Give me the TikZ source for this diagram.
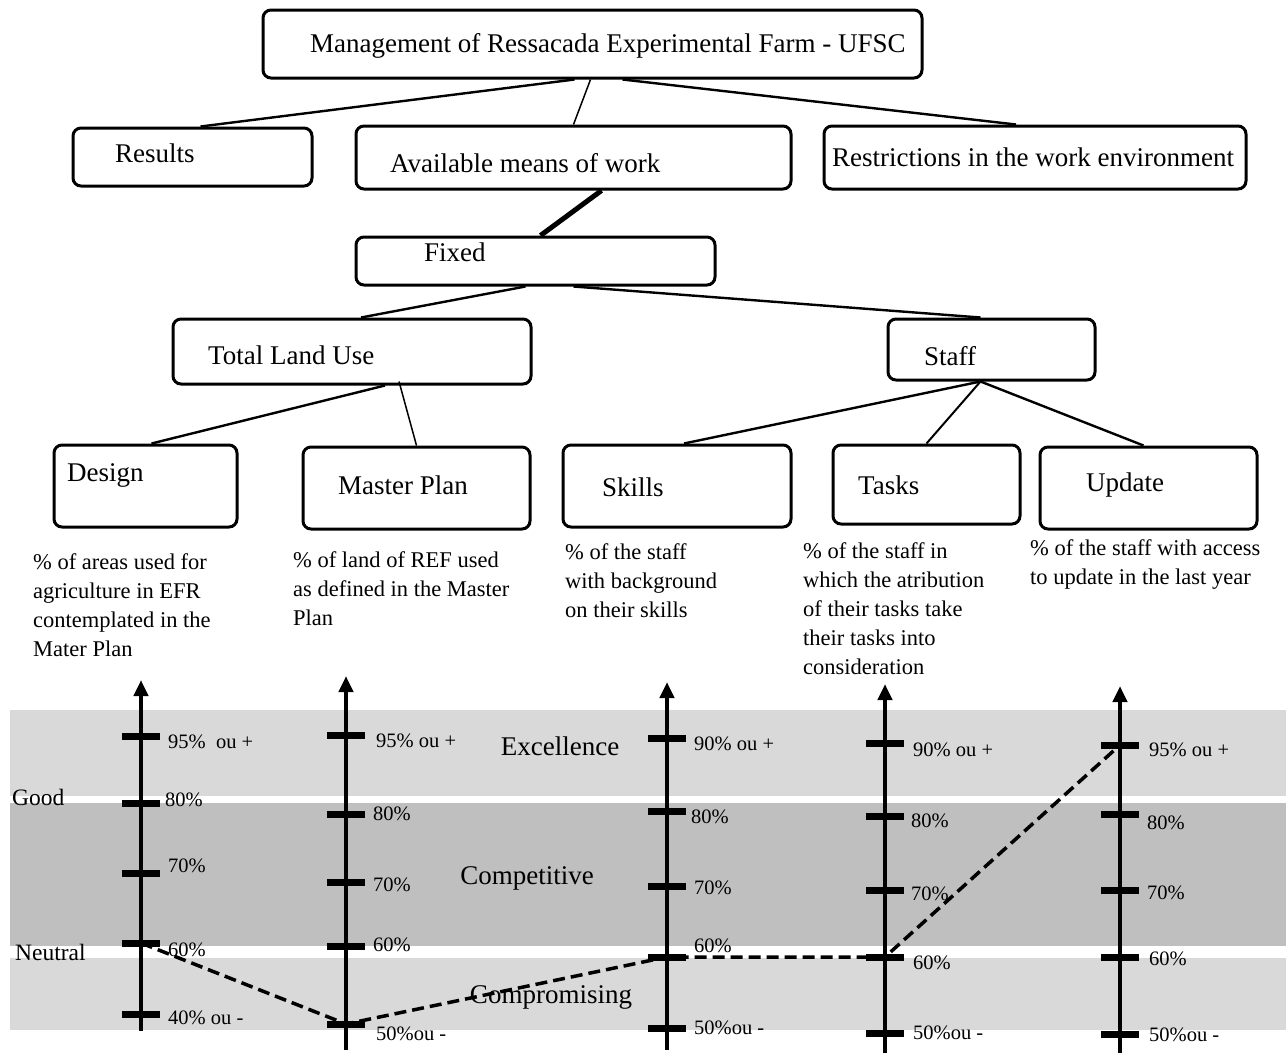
\documentclass[tikz,border=0pt]{standalone}
\usepackage{fontspec}
\setmainfont{Liberation Serif}
\usetikzlibrary{positioning,arrows.meta}

\begin{document}
\begin{tikzpicture}[
        x=1pt, y=-1pt,
        box/.style={
            rectangle,
            draw,
            rounded corners=8pt,
            line width=3pt
        },
        boxtext/.style={anchor=west, inner sep=0pt, font=\fontsize{27}{32}\selectfont},
        desc/.style={anchor=north west, inner sep=0pt, align=left, font=\fontsize{22.5}{29}\selectfont},
        zone/.style={font=\fontsize{27}{31}\selectfont},
        level/.style={anchor=west, inner sep=0pt, font=\fontsize{23.5}{27}\selectfont},
        ticklabel/.style={anchor=west, inner sep=0pt, font=\fontsize{20.5}{23}\selectfont},
        link/.style={line width=2.4pt},
        gauge/.style={line width=4pt, -{Triangle[width=14pt,length=16pt]}},
        notch/.style={line width=7pt},
        trend/.style={line width=3.5pt, dash pattern=on 12pt off 6pt}
    ]
        \useasboundingbox (0,0) rectangle (1286,1053);

        % tree
        \node[box, minimum width=659pt, minimum height=68pt] (top)     at (592.5,44)  {};
        \node[box, minimum width=239pt, minimum height=58pt] (results) at (192.5,157) {};
        \node[box, minimum width=435pt, minimum height=63pt] (avail)   at (573.5,157.5) {};
        \node[box, minimum width=422pt, minimum height=63pt] (restr)   at (1035,157.5) {};
        \node[box, minimum width=359pt, minimum height=48pt] (fixed)   at (535.5,261) {};
        \node[box, minimum width=358pt, minimum height=65pt] (land)    at (352,351.5) {};
        \node[box, minimum width=207pt, minimum height=61pt] (staff)   at (991.5,349.5) {};
        \node[box, minimum width=183pt, minimum height=82pt] (design)  at (145.5,486) {};
        \node[box, minimum width=227pt, minimum height=82pt] (master)  at (416.5,488) {};
        \node[box, minimum width=228pt, minimum height=82pt] (skills)  at (677,486) {};
        \node[box, minimum width=187pt, minimum height=79pt] (tasks)   at (926.5,484.5) {};
        \node[box, minimum width=217pt, minimum height=82pt] (update)  at (1148.5,488) {};

        \node[boxtext] (topT)     at (310,46)  {Management of Ressacada Experimental Farm - UFSC};
        \node[boxtext] (resultsT) at (115,153) {Results};
        \node[boxtext] (availT)   at (390,163) {Available means of work};
        \node[boxtext] (restrT)   at (832,157) {Restrictions in the work environment};
        \node[boxtext] (fixedT)   at (424,252) {Fixed};
        \node[boxtext] (landT)    at (208,355) {Total Land Use};
        \node[boxtext] (staffT)   at (924,356) {Staff};
        \node[boxtext] (designT)  at (67,475)  {Design};
        \node[boxtext] (masterT)  at (338,485) {Master Plan};
        \node[boxtext] (skillsT)  at (602,487) {Skills};
        \node[boxtext] (tasksT)   at (858,485) {Tasks};
        \node[boxtext] (updateT)  at (1086,485) {Update};

        \draw[link] ([xshift=-18pt]top.south) -- ([xshift=8pt]results.north);
        \draw[link, line width=1.5pt] ([xshift=-2pt]top.south) -- (avail.north);
        \draw[link] ([xshift=30pt]top.south) -- ([xshift=-19pt]restr.north);
        \draw[link, line width=5pt] ([xshift=28pt]avail.south) -- ([xshift=5pt]fixed.north);
        \draw[link] ([xshift=-10pt]fixed.south) -- ([xshift=9pt]land.north);
        \draw[link] ([xshift=38pt]fixed.south) -- ([xshift=-11pt]staff.north);
        \draw[link] ([xshift=33pt]land.south) -- ([xshift=6pt]design.north);
        \draw[link, line width=1.5pt] ([xshift=47pt,yshift=4pt]land.south) -- (master.north);
        \draw[link] ([xshift=-11pt]staff.south) -- ([xshift=7pt]skills.north);
        \draw[link, line width=2pt] ([xshift=-11pt]staff.south) -- (tasks.north);
        \draw[link] ([xshift=-11pt]staff.south) -- ([xshift=-5pt]update.north);

        \node[desc] (d1) at (33,553)   {\% of areas used for\\agriculture in EFR\\contemplated in the\\Mater Plan};
        \node[desc] (d2) at (293,551)  {\% of land of REF used\\as defined in the Master\\Plan};
        \node[desc] (d3) at (565,543)  {\% of the staff\\with background\\on their skills};
        \node[desc] (d4) at (803,542)  {\% of the staff in\\which the atribution\\of their tasks take\\their tasks into\\consideration};
        \node[desc] (d5) at (1030,539) {\% of the staff with access\\to update in the last year};

        % scale
        \fill[black!15] (10,710) rectangle (1286,796);
        \fill[black!25] (10,803) rectangle (1286,946);
        \fill[black!15] (10,958) rectangle (1286,1030);

        \foreach \x/\t/\b in {141/680/1031, 346/676/1050, 667/682/1050, 885/684/1053, 1120/686/1053}
            \draw[gauge] (\x,\b) -- (\x,\t);

        \foreach \y/\lx/\ly/\txt [count=\i] in {736/168/742/95\%\ \ ou +, 803/165/800/80\%, 873/168/866/70\%, 943/168/950/60\%, 1014/168/1018/40\% ou -} {
            \draw[notch] (122,\y) -- (160,\y);
            \node[ticklabel] (g1-\i) at (\lx,\ly) {\txt};
        }
        \foreach \y/\lx/\ly/\txt [count=\i] in {735/376/741/95\% ou +, 814/373/814/80\%, 882/373/885/70\%, 946/373/945/60\%, 1024/376/1034/50\%ou -} {
            \draw[notch] (327,\y) -- (365,\y);
            \node[ticklabel] (g2-\i) at (\lx,\ly) {\txt};
        }
        \foreach \y/\lx/\ly/\txt [count=\i] in {738/694/744/90\% ou +, 811/691/817/80\%, 886/694/888/70\%, 957/694/946/60\%, 1028/694/1028/50\%ou -} {
            \draw[notch] (648,\y) -- (686,\y);
            \node[ticklabel] (g3-\i) at (\lx,\ly) {\txt};
        }
        \foreach \y/\lx/\ly/\txt [count=\i] in {743/913/750/90\% ou +, 816/911/821/80\%, 890/911/894/70\%, 957/913/963/60\%, 1033/913/1033/50\%ou -} {
            \draw[notch] (866,\y) -- (904,\y);
            \node[ticklabel] (g4-\i) at (\lx,\ly) {\txt};
        }
        \foreach \y/\lx/\ly/\txt [count=\i] in {745/1149/750/95\% ou +, 814/1147/823/80\%, 890/1147/893/70\%, 957/1149/959/60\%, 1034/1149/1035/50\%ou -} {
            \draw[notch] (1101,\y) -- (1139,\y);
            \node[ticklabel] (g5-\i) at (\lx,\ly) {\txt};
        }

        \node[zone] (excel) at (560,746) {Excellence};
        \node[zone] (compet) at (527,878) {Competitive};
        \node[zone] (compro) at (551,997) {Compromising};
        \node[level] (good) at (12,797) {Good};
        \node[level] (neutral) at (15,952) {Neutral};

        \coordinate (a1) at (141,943);
        \coordinate (a2) at (346,1024);
        \coordinate (a3) at (667,957);
        \coordinate (a4) at (885,957);
        \coordinate (a5) at (1120,745);
        \draw[trend] (a1) -- (a2) -- (a3) -- (a4) -- (a5);
    \end{tikzpicture}
\end{document}
